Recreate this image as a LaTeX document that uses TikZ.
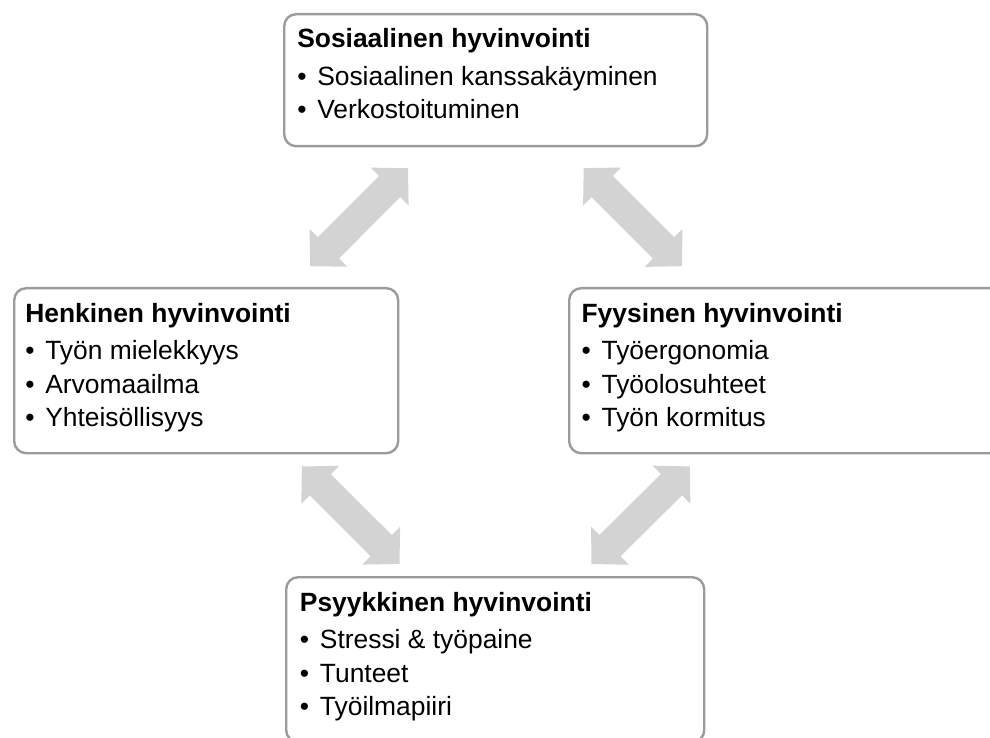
\documentclass[tikz,border=0pt]{standalone}
\usepackage{fontspec}
\setmainfont{Liberation Sans}
\usetikzlibrary{arrows.meta,calc}

\begin{document}
\begin{tikzpicture}[x=0.75pt,y=-0.75pt]
    \definecolor{boxgray}{HTML}{9B9B9B}
    \definecolor{arrowgray}{HTML}{D3D3D3}
    \newcommand{\itm}[1]{\makebox[15pt][l]{•}#1}

    \tikzstyle{box}=[
      draw=boxgray,
      line width=1.8pt,
      rounded corners=9pt,
      fill=white,
      anchor=north west,
      inner sep=0pt,
    ]
    \tikzstyle{txt}=[anchor=north west,inner sep=0pt,align=left,
      font=\fontsize{19.8pt}{25.1pt}\selectfont]
    \tikzstyle{biarrow}=[draw=arrowgray,line width=22.5pt,
      {Triangle[length=19.5pt,width=39pt]}-{Triangle[length=19.5pt,width=39pt]}]

    \useasboundingbox (0,0) rectangle (990,738);
    \clip (0,0) rectangle (990,738);

    \node[box,minimum width=317.25pt,minimum height=99pt] (soc) at (283,13) {};
    \node[box,minimum width=288pt,minimum height=123.75pt] (henk) at (13,287) {};
    \node[box,minimum width=325.5pt,minimum height=123.75pt] (fyys) at (568,287) {};
    \node[box,minimum width=313.5pt,minimum height=123.75pt] (psyk) at (285,576) {};

    \node[txt] (soc-t) at ([xshift=10.5pt,yshift=-11.5pt]soc.north west)
      {\textbf{Sosiaalinen hyvinvointi}\\[3pt]
       \itm{Sosiaalinen kanssakäyminen}\\
       \itm{Verkostoituminen}};
    \node[txt] (henk-t) at ([xshift=9pt,yshift=-12pt]henk.north west)
      {\textbf{Henkinen hyvinvointi}\\[3pt]
       \itm{Työn mielekkyys}\\
       \itm{Arvomaailma}\\
       \itm{Yhteisöllisyys}};
    \node[txt] (fyys-t) at ([xshift=10pt,yshift=-12pt]fyys.north west)
      {\textbf{Fyysinen hyvinvointi}\\[3pt]
       \itm{Työergonomia}\\
       \itm{Työolosuhteet}\\
       \itm{Työn kormitus}};
    \node[txt] (psyk-t) at ([xshift=11pt,yshift=-12pt]psyk.north west)
      {\textbf{Psyykkinen hyvinvointi}\\[3pt]
       \itm{Stressi \& työpaine}\\
       \itm{Tunteet}\\
       \itm{Työilmapiiri}};

    \draw[biarrow,shorten <=22pt,shorten >=22pt] (soc)--(henk);
    \draw[biarrow,shorten <=22pt,shorten >=22pt] (soc)--(fyys);
    \draw[biarrow,shorten <=12.75pt,shorten >=12.75pt] (henk)--(psyk);
    \draw[biarrow,shorten <=12.75pt,shorten >=12.75pt] (fyys)--(psyk);
  \end{tikzpicture}
\end{document}
